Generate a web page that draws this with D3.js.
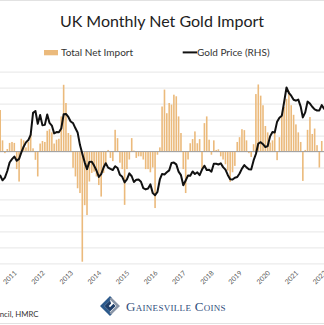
<!DOCTYPE html>
<html><head><meta charset="utf-8">
<script src="https://cdn.jsdelivr.net/npm/d3@7"></script>
<style>html,body{margin:0;padding:0;background:#fff;} svg{display:block;}</style>
</head><body>
<svg id="c" width="324" height="325"></svg>
<script>
// ---------- data ----------
const title = "UK Monthly Net Gold Import";
const legendLabels = ["Total Net Import", "Gold Price (RHS)"];
const sourceText = "Source: World Gold Council, HMRC";
const brandText = "Gainesville Coins";
const yearTicks = [2011,2012,2013,2014,2015,2016,2017,2018,2019,2020,2021,2022];
const leftTicks = [-350,-300,-250,-200,-150,-100,-50,0,50,100,150,200,250];

// Gold price, USD/oz monthly, from May 2010
const goldStart = "2010-05";
const goldPrice = [
  1205,1233,1193,1215,1271,1342,1370,1391,
  1356,1372,1424,1474,1510,1529,1572,1756,1772,1665,1739,1652,
  1656,1742,1673,1650,1585,1596,1594,1626,1744,1747,1722,1684,
  1671,1627,1593,1487,1414,1343,1286,1347,1349,1316,1275,1221,
  1244,1300,1336,1299,1288,1279,1311,1296,1239,1222,1176,1200,
  1251,1227,1179,1198,1199,1181,1128,1117,1125,1159,1086,1068,
  1097,1200,1246,1242,1260,1276,1337,1341,1326,1266,1236,1152,
  1192,1234,1231,1267,1246,1260,1236,1283,1315,1280,1282,1265,
  1331,1331,1325,1335,1303,1282,1238,1202,1199,1215,1221,1250,
  1291,1320,1301,1286,1284,1359,1413,1500,1511,1495,1471,1479,
  1560,1597,1592,1683,1716,1732,1846,1968,1922,1900,1866,1858,
  1867,1808,1718,1760,1850,1834,1807,1785,1776,1777,1821,1790,
  1817,1856
];

// Total net import (tonnes), monthly, from Jun 2010
const importStart = "2010-06";
const netImport = [
  130,35,-5,8,27,30,27,
  -55,-94,40,35,13,30,55,10,-26,-78,25,33,
  30,65,70,60,25,37,40,110,209,152,58,52,
  -51,-78,-115,-130,-345,-168,-199,-94,-67,-63,-78,-105,
  -141,-67,-42,5,-20,-30,68,42,-35,-55,-167,-55,
  -25,42,3,-20,-15,-15,-25,-55,-55,-65,-50,-177,
  -10,13,141,194,120,152,147,178,173,110,58,-55,
  -130,-25,26,39,63,26,39,-55,89,110,37,-10,
  35,5,7,-15,-25,-40,-60,-95,-65,-45,30,45,
  70,67,35,-5,-17,23,180,210,175,145,80,60,
  28,35,62,-27,45,110,140,165,190,145,115,85,
  60,30,-92,5,68,108,55,72,20,-50,33
];

// ---------- build ----------
const parse = d3.timeParse("%Y-%m");
const monthsFrom = (start, n) => d3.range(n).map(k => d3.timeMonth.offset(parse(start), k));
const goldData = monthsFrom(goldStart, goldPrice.length).map((d, k) => ({date: d, v: goldPrice[k]}));
const barData = monthsFrom(importStart, netImport.length).map((d, k) => ({date: d, v: netImport[k]}));

const W = 324, H = 325;
const svg = d3.select("#c");
const font = "Lato, 'Open Sans', sans-serif";

const x = d3.scaleTime().domain([new Date(2011,0,1), new Date(2021,0,1)]).range([16.7, 298.3]);
const yL = d3.scaleLinear().domain([-350, 250]).range([263.3, 71.7]);
const yR = d3.scaleLinear().domain([500, 2100]).range([263.3, 71.7]);

// frame lines
svg.append("line").attr("x1",0).attr("x2",W).attr("y1",0.5).attr("y2",0.5).attr("stroke","#e2e2e2");
svg.append("line").attr("x1",0).attr("x2",W).attr("y1",323.5).attr("y2",323.5).attr("stroke","#e2e2e2");

// gridlines
const grid = svg.append("g").attr("transform", `translate(${W},0)`)
  .call(d3.axisLeft(yL).tickValues(leftTicks).tickSize(W).tickFormat(""));
grid.select(".domain").remove();
grid.selectAll("line").attr("stroke", "#ebebeb").attr("stroke-width", 1.3);

// bars
svg.append("g").selectAll("rect").data(barData).join("rect")
  .attr("x", d => x(d.date) - 0.8)
  .attr("width", 1.6)
  .attr("y", d => Math.min(yL(d.v), yL(0)))
  .attr("height", d => Math.abs(yL(d.v) - yL(0)))
  .attr("fill", "#ebba7c");

// zero line
svg.append("line").attr("x1",0).attr("x2",W).attr("y1",yL(0)).attr("y2",yL(0))
  .attr("stroke","#a3a3a3").attr("stroke-width",1.1);

// gold price line
svg.append("path").datum(goldData)
  .attr("fill","none").attr("stroke","#111").attr("stroke-width",2)
  .attr("stroke-linejoin","round")
  .attr("d", d3.line().x(d => x(d.date)).y(d => yR(d.v)));

// x axis labels
const xa = svg.append("g").attr("transform", `translate(0,${yL(-350)})`)
  .call(d3.axisBottom(x).tickValues(yearTicks.map(y => new Date(y,0,1))).tickSize(0).tickFormat(d3.timeFormat("%Y")));
xa.select(".domain").remove();
xa.selectAll("text")
  .attr("y", 0).attr("dy", 0)
  .attr("transform", "translate(0,10.2) rotate(-45)")
  .attr("text-anchor", "end")
  .attr("fill", "#555").attr("font-size", 6.8).attr("font-family", font);

// title
svg.append("text").attr("x", 162).attr("y", 27.3).attr("text-anchor","middle")
  .attr("font-family", font).attr("font-size", 16).attr("fill", "#222").text(title);

// legend
svg.append("rect").attr("x",44).attr("y",50).attr("width",14).attr("height",5.3).attr("fill","#ebba7c");
svg.append("text").attr("x",61).attr("y",56.3).attr("font-family",font).attr("font-size",10)
  .attr("fill","#333").text(legendLabels[0]);
svg.append("line").attr("x1",182.7).attr("x2",197).attr("y1",52.4).attr("y2",52.4)
  .attr("stroke","#111").attr("stroke-width",2);
svg.append("text").attr("x",197).attr("y",56.3).attr("font-family",font).attr("font-size",10)
  .attr("fill","#333").text(legendLabels[1]);

// source
svg.append("text").attr("x",38.5).attr("y",316.7).attr("text-anchor","end")
  .attr("font-family",font).attr("font-size",7.8).attr("fill","#333").text(sourceText);

// brand logo
const logo = svg.append("g").attr("transform","translate(110,306)");
logo.append("path").attr("d","M0,-10 L-10,0 L0,10 L2.2,7.8 L-5.6,0 L2.2,-7.8 Z").attr("fill","#2c5a8c");
logo.append("path").attr("d","M0,-5.6 L-5.6,0 L0,5.6 L5.6,0 L3.4,-2.2 L0,1.2 L-1.2,0 L1.2,-2.4 Z").attr("fill","#1f3f6a");
logo.append("path").attr("d","M1.2,-8.8 L10,0 L1.2,8.8 L-0.6,7 L6.4,0 L-0.6,-7 Z").attr("fill","#8a96a8");
svg.append("text").attr("x",126).attr("y",310.7)
  .attr("font-family","'Liberation Serif', 'DejaVu Serif', serif").attr("font-size",13)
  .attr("font-variant","small-caps").attr("letter-spacing",0.3)
  .attr("fill","#2e4d7b").text(brandText);
</script>
</body></html>
